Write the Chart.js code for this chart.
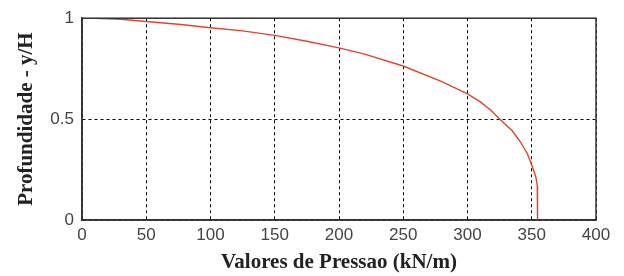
<!DOCTYPE html>
<html><head><meta charset="utf-8">
<script src="https://cdn.jsdelivr.net/npm/chart.js@4/dist/chart.umd.min.js"></script>
<style>html,body{margin:0;padding:0;background:#fff}#wrap{width:624px;height:276px}</style>
</head><body><div id="wrap"><canvas id="c" width="624" height="276"></canvas></div>
<script>
const pressure = [10, 30, 50, 75, 100, 125, 150, 175, 200, 220, 250, 280, 300, 310, 318, 325, 335, 341.5, 346.7, 350.6, 353.2, 354.3, 354.5, 354.5];
const depth    = [1.0, 0.995, 0.984, 0.97, 0.953, 0.937, 0.915, 0.886, 0.853, 0.822, 0.763, 0.686, 0.625, 0.585, 0.545, 0.5, 0.441, 0.384, 0.327, 0.261, 0.212, 0.17, 0.155, 0.0];
const xTicks = [0, 50, 100, 150, 200, 250, 300, 350, 400];
const yTicks = [0, 0.5, 1];
const xTitle = "Valores de Pressao (kN/m)";
const yTitle = "Profundidade - y/H";

const boxPlugin = {
  id: 'box',
  afterDraw(chart) {
    const {ctx, chartArea: a} = chart;
    ctx.save();
    ctx.strokeStyle = '#333';
    ctx.lineWidth = 1.5;
    ctx.strokeRect(a.left, a.top, a.right - a.left, a.bottom - a.top);
    ctx.restore();
  }
};

new Chart(document.getElementById('c'), {
  type: 'scatter',
  data: { datasets: [{
    data: pressure.map((p, i) => ({x: p, y: depth[i]})),
    showLine: true, borderColor: '#e0452c', borderWidth: 1.4, pointRadius: 0, tension: 0
  }]},
  options: {
    responsive: false, animation: false,
    layout: { padding: { left: 14, right: 28, top: 16, bottom: 0 } },
    plugins: { legend: { display: false }, tooltip: { enabled: false } },
    scales: {
      x: {
        type: 'linear', min: xTicks[0], max: xTicks[xTicks.length - 1],
        afterBuildTicks(s) { s.ticks = xTicks.map(v => ({value: v})); },
        ticks: { color: '#444', font: { family: 'Liberation Sans', size: 17 }, padding: 5, callback: v => String(v) },
        grid: { color: '#000', lineWidth: 1, drawTicks: false },
        border: { dash: [3, 3], color: '#333', width: 1.5 },
        title: { display: true, text: xTitle, color: '#222', font: { family: 'Liberation Serif', size: 21, weight: 'bold' }, padding: { top: 0, bottom: 1 } },
        afterFit(s) { s.height = 56; }
      },
      y: {
        type: 'linear', min: yTicks[0], max: yTicks[yTicks.length - 1],
        afterBuildTicks(s) { s.ticks = yTicks.map(v => ({value: v})); },
        ticks: { color: '#444', font: { family: 'Liberation Sans', size: 17 }, padding: 8, callback: v => String(v) },
        grid: { color: '#000', lineWidth: 1, drawTicks: false },
        border: { dash: [3, 3], color: '#333', width: 1.5 },
        title: { display: true, text: yTitle, color: '#222', font: { family: 'Liberation Serif', size: 21, weight: 'bold' }, padding: { top: 0, bottom: 0 } },
        afterFit(s) { s.width = 68; }
      }
    }
  },
  plugins: [boxPlugin]
});
</script></body></html>
